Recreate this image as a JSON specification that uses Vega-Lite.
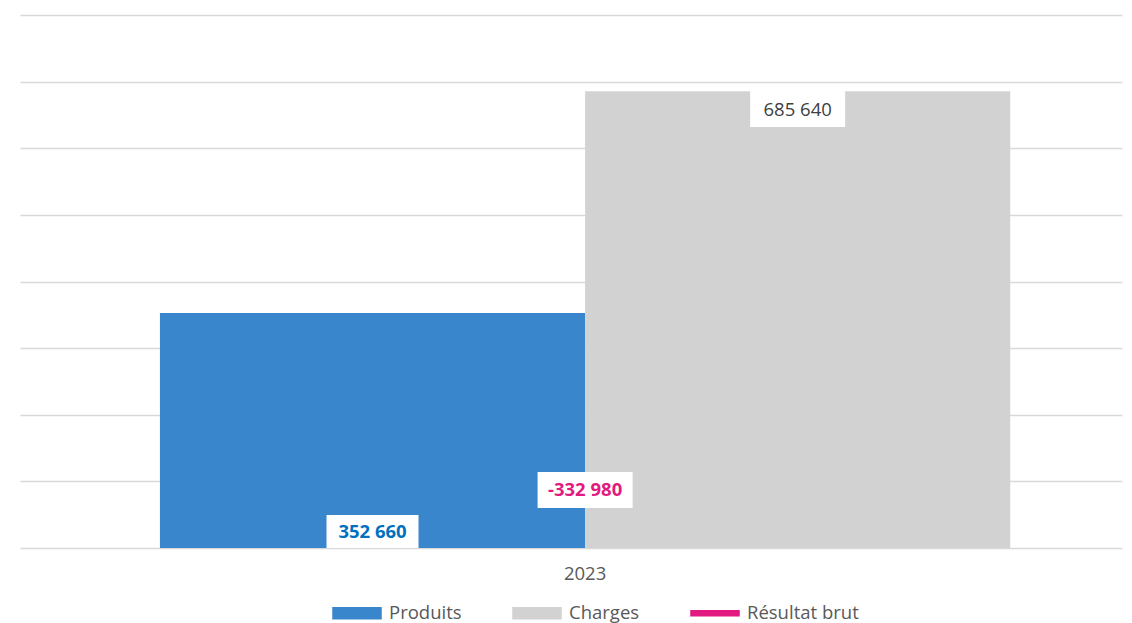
{
  "$schema": "https://vega.github.io/schema/vega-lite/v6.json",
  "width": 1102,
  "height": 533,
  "padding": {"left": 20, "top": 15, "right": 10, "bottom": 0},
  "background": "white",
  "config": {
    "view": {"stroke": null},
    "font": "Open Sans",
    "axis": {"labelFont": "Open Sans", "labelColor": "#595959"}
  },
  "data": {
    "values": [
      {"annee": "2023", "serie": "Produits", "valeur": 352660, "label": "352 660"},
      {"annee": "2023", "serie": "Charges", "valeur": 685640, "label": "685 640"},
      {"annee": "2023", "serie": "Résultat brut", "valeur": -332980, "label": "-332 980"}
    ]
  },
  "encoding": {
    "x": {
      "field": "annee",
      "type": "nominal",
      "scale": {"paddingInner": 0, "paddingOuter": 0.148, "align": 0.556},
      "axis": {"title": null, "labelAngle": 0, "domain": false, "ticks": false, "labelPadding": 16, "labelFontSize": 18.5, "labelColor": "#595959"}
    }
  },
  "layer": [
    {
      "transform": [{"filter": "datum.serie !== 'Résultat brut'"}],
      "mark": {"type": "bar"},
      "encoding": {
        "xOffset": {"field": "serie", "type": "nominal", "scale": {"domain": ["Produits", "Charges"], "paddingInner": 0, "paddingOuter": 0}},
        "y": {
          "field": "valeur",
          "type": "quantitative",
          "scale": {"domain": [0, 800000], "nice": false, "zero": true},
          "axis": {"title": null, "labels": false, "ticks": false, "domain": false, "grid": true, "gridColor": "#d9d9d9", "gridWidth": 1.5, "values": [0, 100000, 200000, 300000, 400000, 500000, 600000, 700000, 800000]}
        },
        "color": {
          "field": "serie",
          "type": "nominal",
          "scale": {"domain": ["Produits", "Charges", "Résultat brut"], "range": ["#3a86cc", "#d2d2d2", "#e2197f"]},
          "legend": {
            "orient": "none",
            "legendX": 312,
            "legendY": 573,
            "padding": 0,
            "direction": "horizontal",
            "title": null,
            "symbolSize": 2304,
            "labelFontSize": 18.5,
            "labelColor": "#595959",
            "labelFont": "Open Sans",
            "columnPadding": 48,
            "symbolOffset": 0,
            "labelOffset": 7,
            "encode": {
              "symbols": {
                "update": {
                  "shape": {"signal": "datum.value === 'Résultat brut' ? 'M-1,-0.1H1V0.1H-1Z' : 'M-1,-0.23H1V0.23H-1Z'"},
                  "fill": {"scale": "color", "field": "value"},
                  "stroke": {"value": "transparent"},
                  "opacity": {"value": 1},
                  "fillOpacity": {"value": 1}
                }
              }
            }
          }
        }
      }
    },
    {
      "transform": [{"filter": "datum.serie === 'Résultat brut'"}],
      "mark": {"type": "line", "clip": true, "strokeWidth": 4},
      "encoding": {
        "y": {"field": "valeur", "type": "quantitative"},
        "color": {"field": "serie", "type": "nominal"}
      }
    },
    {
      "transform": [{"filter": "datum.serie === 'Produits'"}],
      "mark": {"type": "point", "filled": true, "fill": "white", "opacity": 1, "strokeWidth": 0, "size": 8464, "shape": "M-1,-0.717H1V0H-1Z"},
      "encoding": {
        "xOffset": {"field": "serie", "type": "nominal"},
        "y": {"datum": 0, "type": "quantitative"}
      }
    },
    {
      "transform": [{"filter": "datum.serie === 'Produits'"}],
      "mark": {"type": "text", "dy": -16.5, "fontSize": 18.5, "fontWeight": "bold", "color": "#0070c0", "baseline": "middle"},
      "encoding": {
        "xOffset": {"field": "serie", "type": "nominal"},
        "y": {"datum": 0, "type": "quantitative"},
        "text": {"field": "label"}
      }
    },
    {
      "transform": [{"filter": "datum.serie === 'Charges'"}],
      "mark": {"type": "point", "filled": true, "fill": "white", "opacity": 1, "strokeWidth": 0, "size": 9025, "shape": "M-1,-0.025H1V0.754H-1Z"},
      "encoding": {
        "xOffset": {"field": "serie", "type": "nominal"},
        "y": {"field": "valeur", "type": "quantitative"}
      }
    },
    {
      "transform": [{"filter": "datum.serie === 'Charges'"}],
      "mark": {"type": "text", "dy": 19, "fontSize": 18.5, "color": "#404040", "baseline": "middle"},
      "encoding": {
        "xOffset": {"field": "serie", "type": "nominal"},
        "y": {"field": "valeur", "type": "quantitative"},
        "text": {"field": "label"}
      }
    },
    {
      "transform": [{"filter": "datum.serie === 'Résultat brut'"}],
      "mark": {"type": "point", "filled": true, "fill": "white", "opacity": 1, "strokeWidth": 0, "size": 9025, "shape": "M-1,-1.6H1V-0.842H-1Z"},
      "encoding": {
        "y": {"datum": 0, "type": "quantitative"}
      }
    },
    {
      "transform": [{"filter": "datum.serie === 'Résultat brut'"}],
      "mark": {"type": "text", "dy": -58, "fontSize": 18.5, "fontWeight": "bold", "color": "#e2197f", "baseline": "middle"},
      "encoding": {
        "y": {"datum": 0, "type": "quantitative"},
        "text": {"field": "label"}
      }
    }
  ]
}
